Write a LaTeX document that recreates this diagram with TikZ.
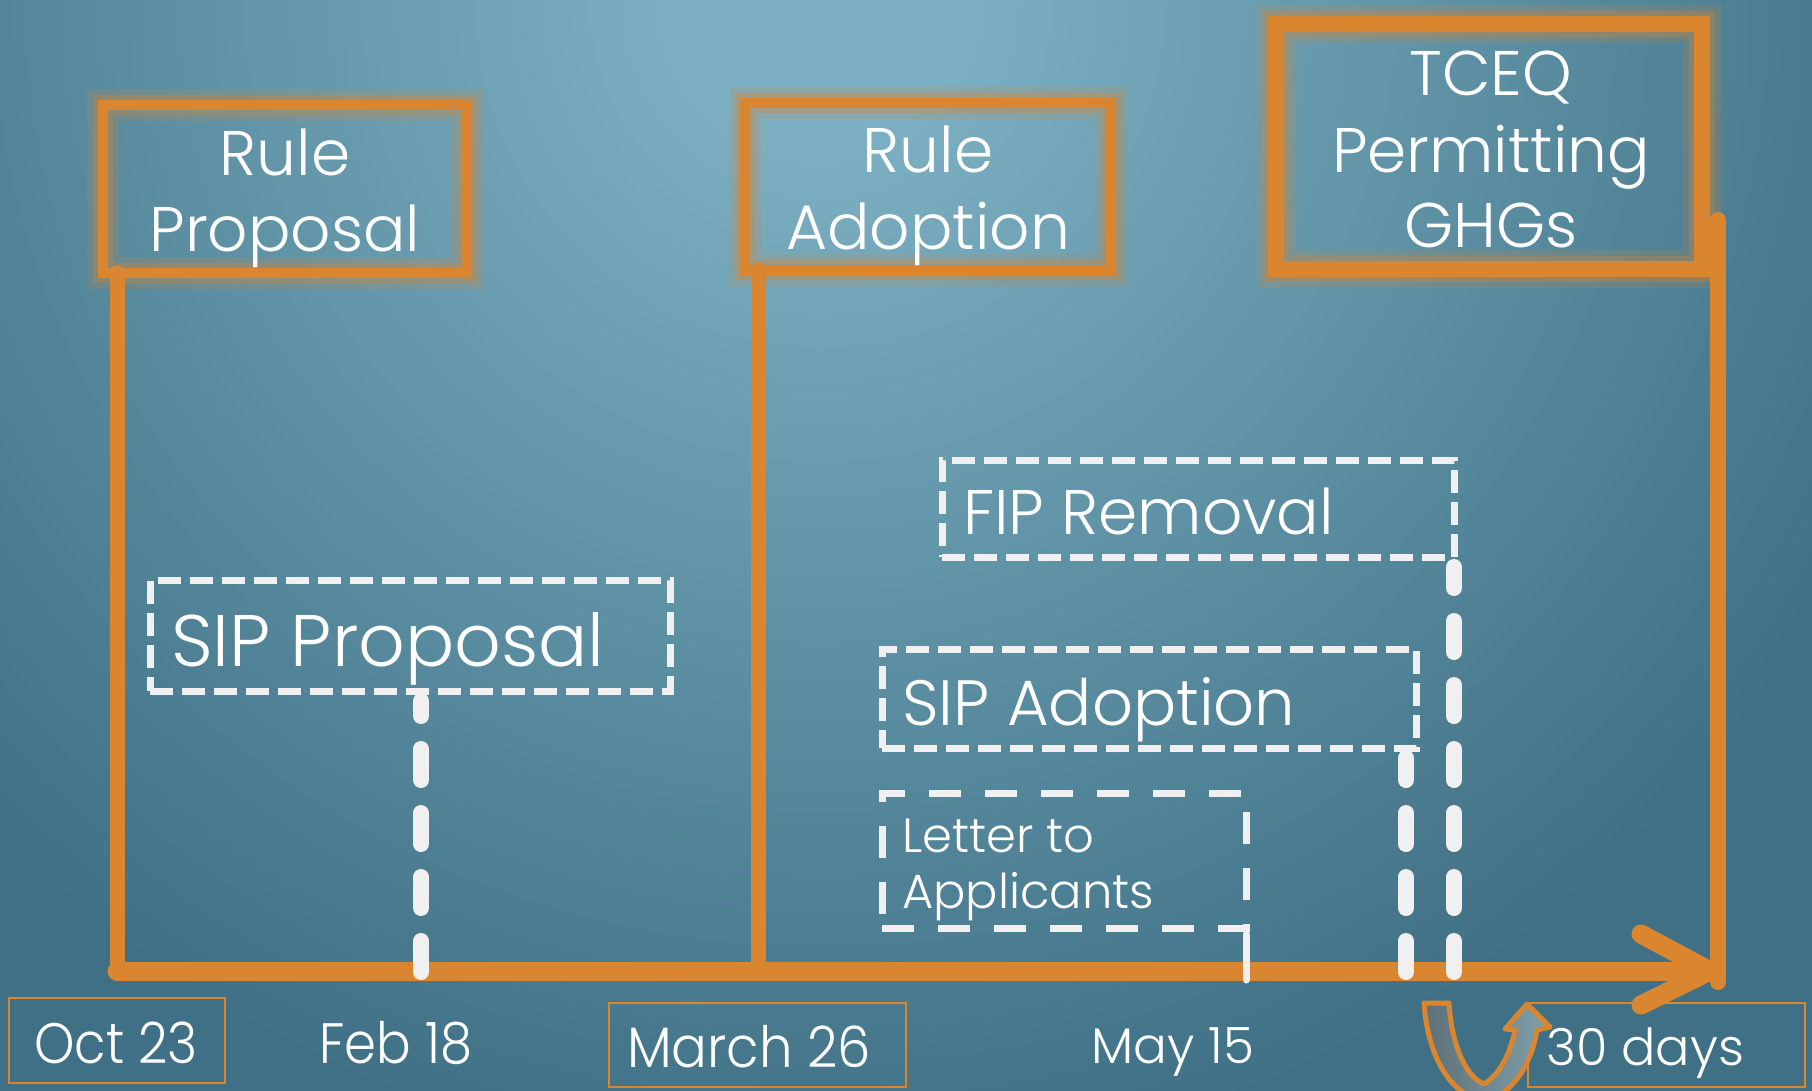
\documentclass[tikz,border=0pt]{standalone}
\usepackage{fontspec}
\setmainfont{Poppins Light}
\usetikzlibrary{calc}
\definecolor{orj}{HTML}{DA8530}
\definecolor{wht}{HTML}{F0F0F0}
\definecolor{bgin}{HTML}{7CAFC2}
\definecolor{bgout}{HTML}{3F7085}
\definecolor{ugl}{HTML}{5E7078}
\definecolor{ugr}{HTML}{7FA0AA}
\pgfdeclareradialshading{bgsh}{\pgfpoint{0bp}{0bp}}{color(0bp)=(bgin); color(3bp)=(bgin); color(25bp)=(bgout); color(50bp)=(bgout)}
\newcommand{\fsz}[1]{\fontsize{#1}{#1}\selectfont}
\begin{document}
\begin{tikzpicture}[x=1pt,y=-1pt,
  glowbox/.style={draw=orj, inner sep=0pt, outer sep=0pt,
    preaction={draw=orj, draw opacity=0.18, line width=#1+22pt},
    preaction={draw=orj, draw opacity=0.3, line width=#1+10pt},
    line width=#1},
  dbox/.style={draw=wht, line width=7pt, dash pattern=on 23pt off 9pt, inner sep=0pt, outer sep=0pt},
  lbox/.style={draw=orj, line width=2pt, inner sep=0pt, outer sep=0pt},
  txt/.style={text=white, inner sep=0pt, anchor=base},
  txtl/.style={text=white, inner sep=0pt, anchor=base west},
  oline/.style={draw=orj, line width=15pt, line cap=round},
  tline/.style={draw=orj, line width=19pt, line cap=round, line join=round},
  wdash/.style={draw=wht, line width=16pt, line cap=round, dash pattern=on 31pt off 33pt},
]
\useasboundingbox (0,0) rectangle (1812,1091);
\begin{scope}
  \clip (0,0) rectangle (1812,1091);
  \fill[bgout] (0,0) rectangle (1812,1091);
  \shade[shading=bgsh] (820,0) circle (1175);
\end{scope}

% top boxes
\node[glowbox=10pt, minimum width=364pt, minimum height=168pt] (rp) at (285,189) {};
\node[glowbox=10pt, minimum width=366pt, minimum height=167pt] (ra) at (928,186.5) {};
\node[glowbox=16pt, minimum width=426pt, minimum height=245pt] (tc) at (1489,146.5) {};

\node[txt, font=\fsz{63}] (rpa) at (285,176) {Rule};
\node[txt, font=\fsz{63}] (rpb) at (285,252) {Proposal};
\node[txt, font=\fsz{63}] (raa) at (928,173) {Rule};
\node[txt, font=\fsz{63}] (rab) at (928,250) {Adoption};
\node[txt, font=\fsz{63}] (tca) at (1491,96) {TCEQ};
\node[txt, font=\fsz{63}] (tcb) at (1491,173) {Permitting};
\node[txt, font=\fsz{63}] (tcc) at (1491,248) {GHGs};

% timeline coordinates
\coordinate (t0) at (117,971);
\coordinate (tfeb) at (421,972);
\coordinate (tmar) at (758,971);
\coordinate (tlet) at (1246,980);
\coordinate (tmay) at (1406,972);
\coordinate (tfip) at (1454,972);
\coordinate (tend) at (1710,971);
\coordinate (aw1) at (1641,934);
\coordinate (aw2) at (1641,1005);
\coordinate (rtop) at (1718,220);
\coordinate (rbot) at (1718,982);

% dashed boxes
\node[dbox, minimum width=520pt, minimum height=111pt] (sp) at (410,635.5) {};
\node[dbox, minimum width=512pt, minimum height=97pt] (fr) at (1198,508.5) {};
\node[dbox, minimum width=534pt, minimum height=99pt] (sa) at (1149,698.5) {};
\node[draw=wht, line width=7pt, dash pattern=on 32pt off 24pt, inner sep=0pt, outer sep=0pt,
      minimum width=364pt, minimum height=135pt] (la) at (1064,860.5) {};

\node[txtl, font=\fsz{73}] (spt) at (171,666) {SIP Proposal};
\node[txtl, font=\fsz{63}] (frt) at (963,534) {FIP Removal};
\node[txtl, font=\fsz{64}] (sat) at (902,725) {SIP Adoption};
\node[txtl, font=\fsz{48}] (lat1) at (902,852) {Letter to};
\node[txtl, font=\fsz{48}] (lat2) at (902,908) {Applicants};

% orange verticals
\draw[oline] (rp.south -| t0) -- (t0);
\draw[oline] (ra.south -| tmar) -- (tmar);
\draw[oline, line width=16pt] (rtop) -- (rbot);

% timeline
\draw[tline] (t0) -- (tend);
\draw[tline] (aw1) -- (tend) -- (aw2);

% dashed verticals (drawn upward from the timeline)
\draw[wdash] (tfip) -- ($(fr.south -| tfip)+(0,10)$);
\draw[wdash] (tmay) -- ($(sa.south -| tmay)+(0,10)$);
\draw[wdash] (tfeb) -- ($(sp.south -| tfeb)+(0,10)$);
\draw[draw=wht, line width=7pt, line cap=round] ($(la.south east)+(0,6)$) -- (tlet);

% bottom labels
\node[lbox, minimum width=216pt, minimum height=85pt] (oct) at (117,1040.5) {};
\node[lbox, minimum width=297pt, minimum height=84pt] (mar) at (757.5,1045) {};
\node[lbox, minimum width=277pt, minimum height=84pt] (days) at (1666.5,1045) {};

\node[txt, font=\fsz{57}] (octt) at (116,1063) {\scalebox{0.9}[1]{Oct 23}};
\node[txt, font=\fsz{57}] (febt) at (396,1063) {\scalebox{0.9}[1]{Feb 18}};
\node[txt, font=\fsz{57}] (mart) at (749,1067) {\scalebox{0.93}[1]{March 26}};
\node[txt, font=\fsz{50}] (mayt) at (1173,1063) {May 15};
\node[txtl, font=\fsz{51}] (dayst) at (1546,1065) {30 days};

% U-turn arrow
\shadedraw[left color=ugl, right color=ugr, draw=orj, line width=5pt, line join=round]
  (1424,1003) -- (1449,1003)
  .. controls (1452,1050) and (1468,1078) .. (1484,1084)
  .. controls (1500,1074) and (1510,1054) .. (1515,1030)
  -- (1505,1029) -- (1527,1004) -- (1550,1027) -- (1537,1030)
  .. controls (1530,1072) and (1506,1098) .. (1484,1100)
  .. controls (1455,1098) and (1428,1062) .. cycle;
\end{tikzpicture}
\end{document}
